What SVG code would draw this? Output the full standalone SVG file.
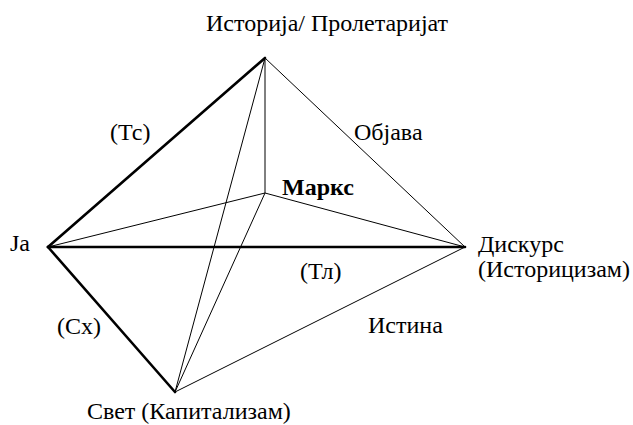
<svg xmlns="http://www.w3.org/2000/svg" width="633" height="425" viewBox="0 0 633 425">
<style>
text{font-family:"Liberation Serif","Times New Roman",serif;font-size:24px;fill:#000}
.b{font-weight:bold}
.thick{stroke:#000;stroke-width:2.6;fill:none;stroke-linecap:round}
.thin{stroke:#000;stroke-width:1;fill:none}
</style>
<rect width="633" height="425" fill="#fff"/>
<g id="connectors">
<line class="thin" x1="265" y1="58" x2="465" y2="247"/>
<line class="thin" x1="265" y1="58" x2="175" y2="392"/>
<line class="thin" x1="265" y1="58" x2="265" y2="193"/>
<line class="thin" x1="265" y1="193" x2="48" y2="247"/>
<line class="thin" x1="265" y1="193" x2="465" y2="247"/>
<line class="thin" x1="265" y1="193" x2="175" y2="392"/>
<line class="thin" x1="175" y1="392" x2="465" y2="247"/>
<line class="thick" x1="265" y1="58" x2="48" y2="247"/>
<line class="thick" x1="48" y1="247" x2="465" y2="247"/>
<line class="thick" x1="48" y1="247" x2="175" y2="392"/>
</g>
<g id="istorija"><text x="206" y="31">Историја/ Пролетаријат</text></g>
<g id="ja"><text x="10" y="251">Ja</text></g>
<g id="marks"><text class="b" x="282" y="195">Маркс</text></g>
<g id="diskurs"><text x="478" y="252">Дискурс</text><text x="478" y="277">(Историцизам)</text></g>
<g id="svet"><text x="87" y="419">Свет (Капитализам)</text></g>
<g id="labels">
<text x="110" y="140">(Тс)</text>
<text x="354" y="140">Објава</text>
<text x="300" y="279">(Тл)</text>
<text x="368" y="333">Истина</text>
<text x="57" y="334">(Сх)</text>
</g>
</svg>
